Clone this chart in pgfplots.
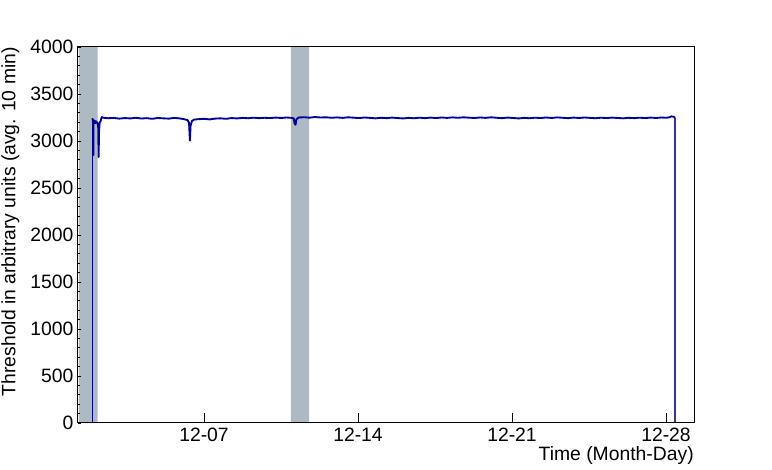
\documentclass[border=0pt]{standalone}
\usepackage{pgfplots}
\pgfplotsset{compat=1.18}
\usepackage{fontspec}
\setmainfont{Liberation Sans}
\definecolor{bandgray}{HTML}{ADBAC4}
\definecolor{thrblue}{HTML}{00009A}
\newcommand{\lblfont}{\fontsize{14.5pt}{17.4pt}\selectfont}
\begin{document}
\begin{tikzpicture}[x=0.75pt,y=0.75pt]
\path[use as bounding box] (-78,-47) rectangle (694,423);
\begin{axis}[
  at={(0,0)}, anchor=south west,
  scale only axis,
  width=462pt, height=282pt,
  xmin=1.273, xmax=29.273,
  ymin=0, ymax=4000,
  xtick={7,14,21,28},
  xticklabels={12-07,12-14,12-21,12-28},
  ytick={0,500,...,4000},
  minor y tick num=4,
  tick pos=left,
  tick align=inside,
  axis on top,
  major tick length=2.5pt,
  minor tick length=1.8pt,
  x tick style={/pgfplots/major tick length=7.5pt},
  tick style={black, line width=0.6pt},
  axis line style={black, line width=0.75pt},
  /pgf/number format/assume math mode=true,
  /pgf/number format/1000 sep={},
  ticklabel style={font=\lblfont},
  label style={font=\lblfont},
  xlabel={Time (Month-Day)},
  ylabel={Threshold in arbitrary units (avg. 10 min)},
  xlabel style={at={(rel axis cs:1,-0.061)}, anchor=north east, inner sep=0pt},
  ylabel style={at={(rel axis cs:-0.0946,1)}, anchor=south east, inner sep=0pt},
]
% shaded periods
\addplot[fill=bandgray, draw=none] coordinates {(1.318,0) (1.318,4000) (2.17,4000) (2.17,0)} \closedcycle;
\addplot[fill=bandgray, draw=none] coordinates {(10.95,0) (10.95,4000) (11.78,4000) (11.78,0)} \closedcycle;
% threshold, 10 min average: off before start
\addplot[thrblue, line width=0.8pt, mark=none] coordinates {
(1.273,0) (1.92,0) (1.92,3240)
};
% running
\addplot[thrblue, line width=1.4pt, mark=none, line join=round] coordinates {
(1.92,3240) (1.94,3230) (1.96,3200) (1.97,2850) (1.98,3180)
(2.00,3220) (2.03,3210) (2.06,3190) (2.09,3210) (2.12,3200) (2.16,3190)
(2.19,3150) (2.21,2830) (2.23,3100) (2.26,3200) (2.30,3210) (2.33,3240) (2.36,3255)
(2.40,3248) (2.65,3242) (2.90,3246) (3.15,3238) (3.40,3244) (3.65,3240)
(3.90,3247) (4.15,3239) (4.40,3243) (4.65,3236) (4.90,3245) (5.15,3241)
(5.40,3238) (5.65,3246) (5.90,3240) (6.10,3232) (6.25,3222) (6.32,3195)
(6.36,3005) (6.39,3160) (6.45,3212) (6.55,3228) (6.75,3232) (7.00,3236)
(7.25,3230) (7.50,3238) (7.75,3241) (8.00,3236) (8.25,3244) (8.50,3240)
(8.75,3246) (9.00,3242) (9.25,3248) (9.50,3243) (9.75,3247) (10.00,3244)
(10.25,3249) (10.50,3245) (10.75,3250) (11.00,3246) (11.08,3240) (11.12,3185)
(11.16,3172) (11.20,3230) (11.30,3250) (11.55,3253) (11.80,3248) (12.05,3255)
(12.30,3250) (12.55,3252) (12.80,3247) (13.05,3251) (13.30,3246) (13.55,3252)
(13.80,3248) (14.05,3244) (14.30,3250) (14.55,3246) (14.80,3241) (15.05,3247)
(15.30,3243) (15.55,3249) (15.80,3244) (16.05,3240) (16.30,3246) (16.55,3242)
(16.80,3248) (17.05,3243) (17.30,3249) (17.55,3244) (17.80,3250) (18.05,3246)
(18.30,3251) (18.55,3247) (18.80,3252) (19.05,3248) (19.30,3245) (19.55,3250)
(19.80,3246) (20.05,3252) (20.30,3247) (20.55,3243) (20.80,3249) (21.05,3245)
(21.30,3240) (21.55,3246) (21.80,3242) (22.05,3248) (22.30,3244) (22.55,3250)
(22.80,3245) (23.05,3251) (23.30,3247) (23.55,3243) (23.80,3249) (24.05,3245)
(24.30,3250) (24.55,3246) (24.80,3242) (25.05,3248) (25.30,3244) (25.55,3249)
(25.80,3245) (26.05,3241) (26.30,3247) (26.55,3243) (26.80,3248) (27.05,3244)
(27.30,3249) (27.55,3245) (27.80,3250) (28.00,3247) (28.15,3252) (28.25,3262)
(28.35,3258) (28.41,3244)
};
% off after end
\addplot[thrblue!80, line width=0.8pt, mark=none] coordinates {
(28.41,3244) (28.41,0) (29.273,0)
};
\end{axis}
\end{tikzpicture}
\end{document}
